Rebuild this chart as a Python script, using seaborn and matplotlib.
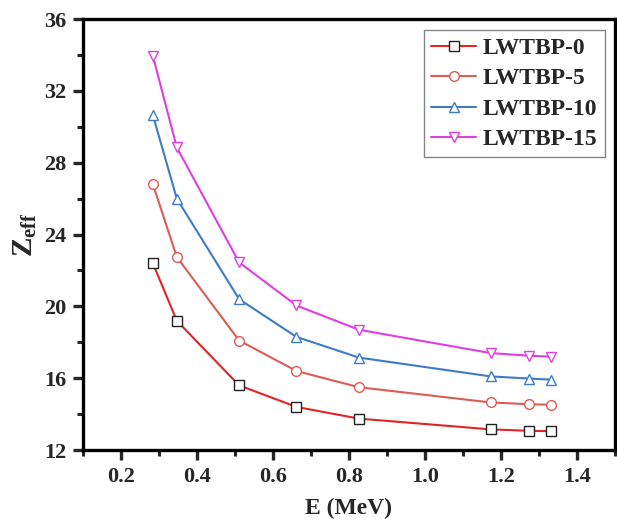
import numpy as np
import pandas as pd
import matplotlib
matplotlib.use("Agg")
import matplotlib.pyplot as plt
from matplotlib.ticker import MultipleLocator
import seaborn as sns

# photon energies (MeV)
energy = [0.284, 0.347, 0.511, 0.662, 0.826, 1.173, 1.275, 1.332]

# effective atomic number per sample
zeff_0 = [22.4, 19.2, 15.6, 14.4, 13.75, 13.15, 13.07, 13.05]
zeff_5 = [26.8, 22.75, 18.1, 16.4, 15.5, 14.65, 14.55, 14.52]
zeff_10 = [30.65, 26.0, 20.4, 18.3, 17.15, 16.1, 15.98, 15.92]
zeff_15 = [33.95, 28.85, 22.45, 20.05, 18.7, 17.4, 17.25, 17.2]

labels = ["LWTBP-0", "LWTBP-5", "LWTBP-10", "LWTBP-15"]
series = [zeff_0, zeff_5, zeff_10, zeff_15]
line_colors = ["#e02525", "#dd5c55", "#3d7cc4", "#e03ee0"]
edge_colors = ["#222222", "#dd5c55", "#3d7cc4", "#e03ee0"]
markers = ["s", "o", "^", "v"]

sns.set_style("ticks")
plt.rcParams["font.family"] = ["Liberation Serif", "DejaVu Serif"]
plt.rcParams["font.weight"] = "bold"
plt.rcParams["mathtext.fontset"] = "custom"
plt.rcParams["mathtext.rm"] = "Liberation Serif:bold"
plt.rcParams["mathtext.bf"] = "Liberation Serif:bold"
plt.rcParams["mathtext.it"] = "Liberation Serif:bold"

fig = plt.figure(figsize=(6.17, 5.31), dpi=100)
ax = fig.add_axes([0.1345, 0.1525, 0.862, 0.8115])

for lab, vals, lc, ec, m in zip(labels, series, line_colors, edge_colors, markers):
    df = pd.DataFrame({"E": energy, "Z": vals})
    sns.lineplot(data=df, x="E", y="Z", ax=ax, color=lc, linewidth=1.5,
                 marker=m, markersize=7, markerfacecolor="white",
                 markeredgecolor=ec, markeredgewidth=1.0, label=lab)

ax.set_xlim(0.1, 1.5)
ax.set_ylim(12, 36)
ax.xaxis.set_major_locator(MultipleLocator(0.2))
ax.xaxis.set_minor_locator(MultipleLocator(0.1))
ax.yaxis.set_major_locator(MultipleLocator(4))
ax.yaxis.set_minor_locator(MultipleLocator(2))
ax.set_xticks(np.arange(0.2, 1.41, 0.2))
ax.set_xticklabels(["0.2", "0.4", "0.6", "0.8", "1.0", "1.2", "1.4"])

for sp in ax.spines.values():
    sp.set_linewidth(2.4)
    sp.set_color("black")
ax.tick_params(which="major", direction="out", length=7, width=2.4,
               labelsize=16, top=False, right=False, pad=5)
ax.tick_params(which="minor", direction="out", length=4, width=2.2,
               top=False, right=False)
for t in ax.get_xticklabels() + ax.get_yticklabels():
    t.set_fontweight("bold")

ax.set_xlabel("E (MeV)", fontsize=17, fontweight="bold", labelpad=8)
ax.set_ylabel(r"$\mathregular{Z_{eff}}$", fontsize=21, fontweight="bold", labelpad=4)

leg = ax.legend(loc="upper right", bbox_to_anchor=(0.99, 0.985), fontsize=17,
                frameon=True, fancybox=False, edgecolor="#666666",
                handlelength=1.9, borderpad=0.3, labelspacing=0.38,
                handletextpad=0.3, borderaxespad=0.2)
leg.get_frame().set_linewidth(1.0)
for t in leg.get_texts():
    t.set_fontweight("bold")

fig.savefig("out.png", dpi=100)
